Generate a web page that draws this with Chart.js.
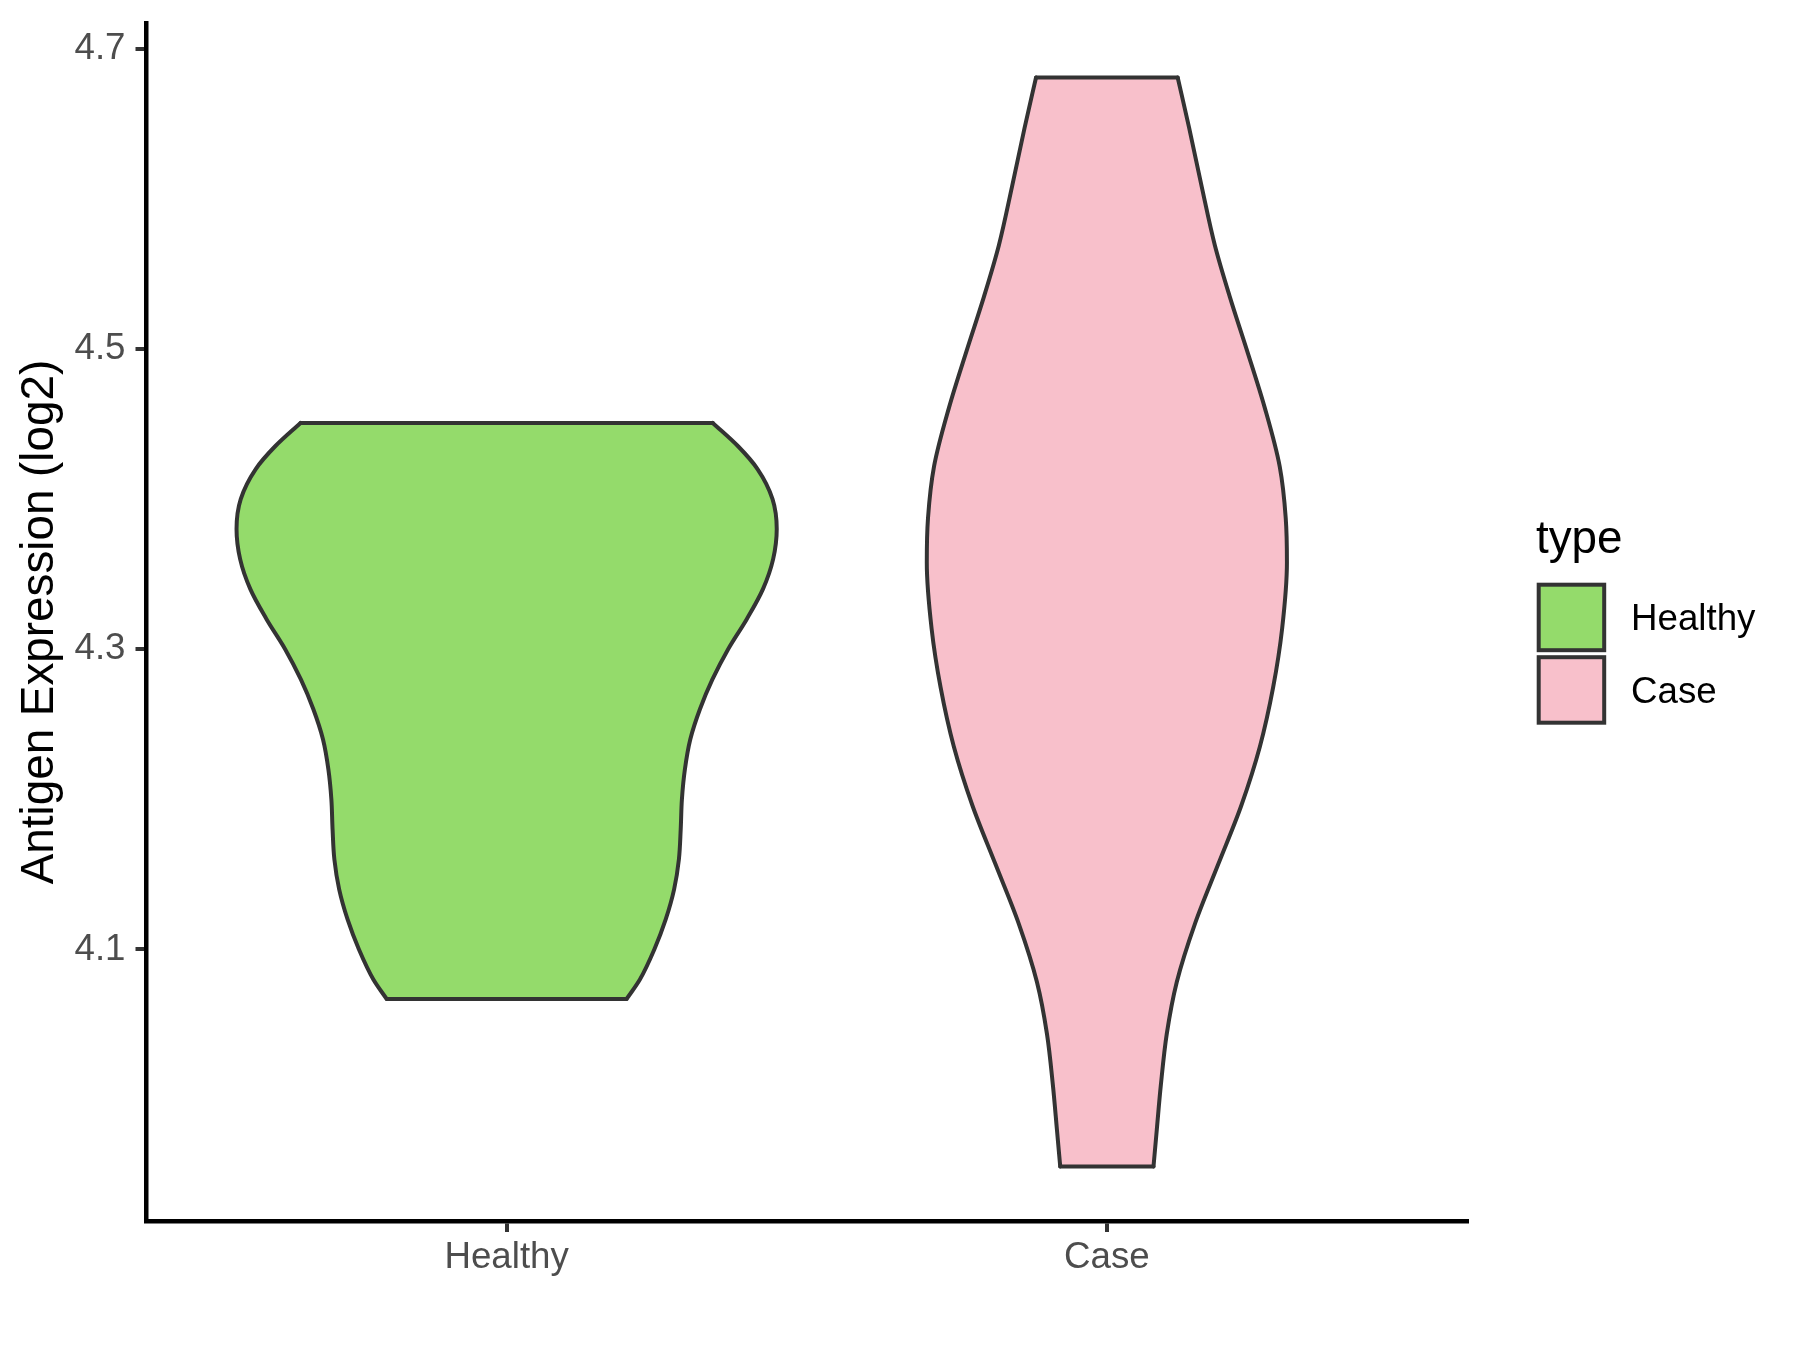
<!DOCTYPE html>
<html>
<head>
<meta charset="utf-8">
<script src="https://cdn.jsdelivr.net/npm/chart.js@4.4.1/dist/chart.umd.min.js"></script>
<style>
  html, body { margin: 0; background: #fff; }
  #wrap { width: 1800px; height: 1350px; }
</style>
</head>
<body>
<div id="wrap"><canvas id="violin" width="1800" height="1350"></canvas></div>
<script>
// categories and fill colours
const categories = ["Healthy", "Case"];
const fillColors = ["#94DB6B", "#F8C0CB"];

// violin outline: value (top -> bottom) and half width in category units
const healthyY = [4.4507, 4.435, 4.42, 4.40, 4.38, 4.36, 4.34, 4.32, 4.30, 4.28, 4.26, 4.24, 4.22, 4.20, 4.18, 4.16, 4.14, 4.12, 4.10, 4.08, 4.067];
const healthyHalfWidth = [0.3434, 0.386, 0.418, 0.443, 0.45, 0.444, 0.427, 0.400, 0.369, 0.343, 0.322, 0.306, 0.297, 0.292, 0.290, 0.287, 0.279, 0.265, 0.246, 0.222, 0.1999];

const caseY = [4.6808, 4.6474, 4.6081, 4.5689, 4.5345, 4.5002, 4.4609, 4.4216, 4.3873, 4.3579, 4.3137, 4.2745, 4.2352, 4.1959, 4.1567, 4.1174, 4.0782, 4.0438, 4.0095, 3.9800, 3.9554];
const caseHalfWidth = [0.118, 0.137, 0.158, 0.18, 0.205, 0.2325, 0.263, 0.288, 0.298, 0.3, 0.292, 0.277, 0.255, 0.224, 0.1855, 0.147, 0.1164, 0.0998, 0.0899, 0.0832, 0.0777];

const yTicks = [4.1, 4.3, 4.5, 4.7];

const FONT = "'Liberation Sans', Arial, Helvetica, sans-serif";
const OUTLINE = "#333333";

// ggplot-like 5% expansion of the data range
const allY = healthyY.concat(caseY);
const yLo = Math.min(...allY), yHi = Math.max(...allY);
const yMin = yLo - 0.05 * (yHi - yLo);
const yMax = yHi + 0.05 * (yHi - yLo);

function violinSets(center, ys, hws, color) {
    const left = ys.map((y, i) => ({ x: center - hws[i], y: y }));
    const right = ys.map((y, i) => ({ x: center + hws[i], y: y }));
    const n = ys.length - 1;
    const line = { borderColor: OUTLINE, borderWidth: 4, pointRadius: 0, borderCapStyle: "round", borderJoinStyle: "round" };
    const side = { indexAxis: "y", cubicInterpolationMode: "monotone" };
    return [
        // flat top and bottom edges
        { ...line, data: [left[0], right[0], { x: center, y: null }, left[n], right[n]], tension: 0, fill: false, spanGaps: false },
        // left side
        { ...line, ...side, data: left, fill: false },
        // right side, filled back to the left side
        { ...line, ...side, data: right, fill: "-1", backgroundColor: color },
    ];
}

const datasets = [
    ...violinSets(1, healthyY, healthyHalfWidth, fillColors[0]),
    ...violinSets(2, caseY, caseHalfWidth, fillColors[1]),
];

// legend drawn to the right of the panel
const typeLegend = {
    id: "typeLegend",
    afterDraw(chart) {
        const ctx = chart.ctx;
        ctx.save();
        ctx.fillStyle = "#000";
        ctx.textAlign = "left";
        ctx.textBaseline = "alphabetic";
        ctx.font = `45.8px ${FONT}`;
        ctx.fillText("type", 1536, 553);
        ctx.font = `36.7px ${FONT}`;
        categories.forEach((cat, i) => {
            const y = 584.7 + i * 72.5;
            ctx.fillStyle = fillColors[i];
            ctx.fillRect(1538.7, y, 65.5, 65.5);
            ctx.strokeStyle = OUTLINE;
            ctx.lineWidth = 4;
            ctx.strokeRect(1538.7, y, 65.5, 65.5);
            ctx.fillStyle = "#000";
            ctx.fillText(cat, 1631, y + 32.75 + 13);
        });
        ctx.restore();
    },
};

new Chart(document.getElementById("violin"), {
    type: "line",
    data: { datasets: datasets },
    plugins: [typeLegend],
    options: {
        responsive: false,
        animation: false,
        devicePixelRatio: 1,
        layout: { padding: { top: 23, right: 333, left: 0, bottom: 0 } },
        plugins: {
            legend: { display: false },
            tooltip: { enabled: false },
        },
        scales: {
            x: {
                type: "linear",
                min: 0.4,
                max: 2.6,
                afterBuildTicks: (s) => { s.ticks = categories.map((c, i) => ({ value: i + 1 })); },
                afterFit: (s) => { s.height = 129; s.paddingLeft = 0; s.paddingRight = 0; },
                ticks: {
                    callback: (v) => categories[v - 1],
                    font: { family: FONT, size: 36.7 },
                    color: "#4D4D4D",
                    padding: 4,
                    autoSkip: false,
                    maxRotation: 0,
                },
                grid: { drawOnChartArea: false, tickLength: 11, color: OUTLINE, lineWidth: 4 },
                border: { color: "#000", width: 4.5 },
            },
            y: {
                type: "linear",
                min: yMin,
                max: yMax,
                afterBuildTicks: (s) => { s.ticks = yTicks.map((v) => ({ value: v })); },
                afterFit: (s) => { s.width = 146.5; s.paddingTop = 0; s.paddingBottom = 0; },
                ticks: {
                    callback: (v) => v.toFixed(1),
                    font: { family: FONT, size: 36.7 },
                    color: "#4D4D4D",
                    padding: 10,
                },
                grid: { drawOnChartArea: false, tickLength: 11, color: OUTLINE, lineWidth: 4 },
                border: { color: "#000", width: 4.5 },
                title: {
                    display: true,
                    text: "Antigen Expression (log2)",
                    font: { family: FONT, size: 45.8 },
                    color: "#000",
                    padding: { top: 13, bottom: 0 },
                },
            },
        },
    },
});
</script>
</body>
</html>
